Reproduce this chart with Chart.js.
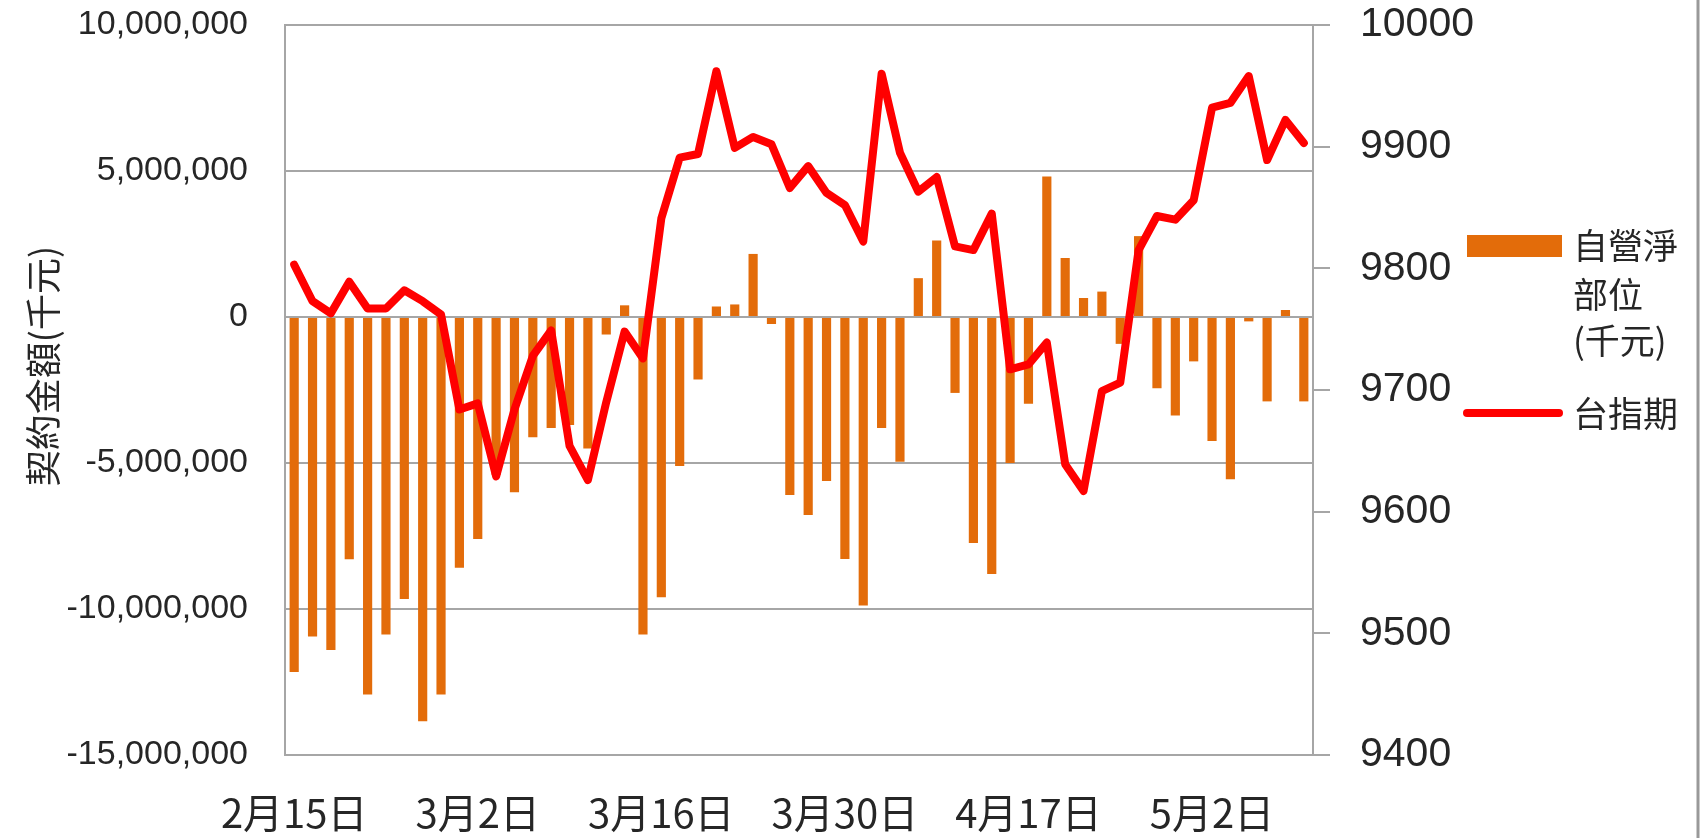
<!DOCTYPE html>
<html>
<head>
<meta charset="utf-8">
<script src="https://cdn.jsdelivr.net/npm/chart.js@4"></script>
<style>
  html, body { margin: 0; padding: 0; background: #fff; }
  #wrap { width: 1705px; height: 838px; }
</style>
</head>
<body>
<div id="wrap"><canvas id="chart" width="1705" height="838"></canvas></div>
<script>
// trading days (only every 10th is labelled on the axis)
var dates = [
    '2月15日', '2月16日', '2月17日', '2月18日', '2月20日', '2月21日', '2月22日', '2月23日', '2月24日', '3月1日',
    '3月2日', '3月3日', '3月6日', '3月7日', '3月8日', '3月9日', '3月10日', '3月13日', '3月14日', '3月15日',
    '3月16日', '3月17日', '3月20日', '3月21日', '3月22日', '3月23日', '3月24日', '3月27日', '3月28日', '3月29日',
    '3月30日', '3月31日', '4月5日', '4月6日', '4月7日', '4月10日', '4月11日', '4月12日', '4月13日', '4月14日',
    '4月17日', '4月18日', '4月19日', '4月20日', '4月21日', '4月24日', '4月25日', '4月26日', '4月27日', '4月28日',
    '5月2日', '5月3日', '5月4日', '5月5日', '5月8日', '5月9日'
];

// 自營淨部位 (千元)
var netPosition = [
    -12160000, -10940000, -11400000, -8300000, -12930000, -10870000, -9660000, -13840000, -12930000, -8590000,
    -7600000, -5400000, -6000000, -4120000, -3800000, -3700000, -4500000, -600000, 400000, -10870000,
    -9600000, -5100000, -2140000, 360000, 430000, 2160000, -240000, -6100000, -6780000, -5620000,
    -8290000, -9880000, -3800000, -4960000, 1330000, 2620000, -2600000, -7740000, -8800000, -5000000,
    -2970000, 4810000, 2020000, 650000, 870000, -920000, 2770000, -2440000, -3370000, -1520000,
    -4250000, -5560000, -150000, -2890000, 240000, -2890000
];

// 台指期
var futures = [
    9803, 9773, 9763, 9789, 9767, 9767, 9782, 9773, 9762, 9684,
    9689, 9629, 9684, 9728, 9749, 9654, 9626, 9690, 9748, 9726,
    9841, 9891, 9894, 9962, 9899, 9908, 9902, 9866, 9884, 9862,
    9852, 9822, 9960, 9895, 9863, 9875, 9818, 9815, 9845, 9717,
    9721, 9739, 9639, 9617, 9699, 9706, 9815, 9843, 9840, 9856,
    9932, 9936, 9958, 9889, 9922, 9903
];

var leftTitle = '契約金額(千元)';
var barLegend = ['自營淨', '部位', '(千元)'];
var lineLegend = '台指期';

var gridGray = '#a6a6a6';
var textColor = '#262626';
var cjkFont = '"Noto Sans CJK TC", "Noto Sans CJK SC", sans-serif';

// keep the plot box fixed: no extra room for tick label overhang
function fixPadding(scale) {
    scale.paddingTop = 0;
    scale.paddingBottom = 0;
}

var extrasPlugin = {
    id: 'extras',
    afterDraw: function (chart) {
        var ctx = chart.ctx;
        var ds = chart.data.datasets;
        ctx.save();

        // y axis title
        ctx.translate(43, 366);
        ctx.rotate(-Math.PI / 2);
        ctx.fillStyle = textColor;
        ctx.font = '36px ' + cjkFont;
        ctx.textAlign = 'center';
        ctx.textBaseline = 'middle';
        ctx.fillText(leftTitle, 0, 0);
        ctx.setTransform(1, 0, 0, 1, 0, 0);

        // legend
        ctx.fillStyle = ds[0].backgroundColor;
        ctx.fillRect(1467, 235, 95, 22);
        ctx.strokeStyle = ds[1].borderColor;
        ctx.lineWidth = 8;
        ctx.lineCap = 'round';
        ctx.beginPath();
        ctx.moveTo(1467, 413);
        ctx.lineTo(1559, 413);
        ctx.stroke();

        ctx.fillStyle = textColor;
        ctx.font = '35px ' + cjkFont;
        ctx.textAlign = 'left';
        ctx.textBaseline = 'middle';
        ctx.fillText(barLegend[0], 1573, 246);
        ctx.fillText(barLegend[1], 1573, 295);
        ctx.fillText(barLegend[2], 1573, 341);
        ctx.fillText(lineLegend, 1573, 414);

        // frame edge on the right
        ctx.strokeStyle = '#999';
        ctx.lineWidth = 3;
        ctx.lineCap = 'butt';
        ctx.beginPath();
        ctx.moveTo(1698, 0);
        ctx.lineTo(1698, 838);
        ctx.stroke();
        ctx.restore();
    }
};

new Chart(document.getElementById('chart'), {
    data: {
        labels: dates,
        datasets: [
            {
                type: 'bar',
                label: '自營淨部位(千元)',
                data: netPosition,
                yAxisID: 'y',
                backgroundColor: '#e36c0a',
                barPercentage: 0.5,
                categoryPercentage: 1.0,
                order: 2
            },
            {
                type: 'line',
                label: lineLegend,
                data: futures,
                yAxisID: 'y1',
                borderColor: '#ff0000',
                borderWidth: 8,
                pointRadius: 0,
                tension: 0,
                borderJoinStyle: 'round',
                borderCapStyle: 'round',
                order: 1
            }
        ]
    },
    options: {
        responsive: false,
        animation: false,
        devicePixelRatio: 1,
        layout: { padding: { top: 25, left: 0, right: 0, bottom: 0 } },
        plugins: {
            legend: { display: false },
            tooltip: { enabled: false }
        },
        scales: {
            x: {
                offset: true,
                grid: { display: false, drawTicks: false },
                border: { display: true, color: gridGray, width: 2 },
                ticks: {
                    autoSkip: false,
                    maxRotation: 0,
                    minRotation: 0,
                    padding: 34,
                    color: textColor,
                    font: { family: cjkFont, size: 40 },
                    callback: function (value, i) {
                        return i % 10 === 0 ? dates[i] : '';
                    }
                },
                afterFit: function (scale) { scale.height = 83; }
            },
            y: {
                position: 'left',
                min: -15000000,
                max: 10000000,
                grid: { color: gridGray, lineWidth: 2, drawTicks: false },
                border: { display: true, color: gridGray, width: 2 },
                ticks: {
                    stepSize: 5000000,
                    padding: 37,
                    color: textColor,
                    font: { family: 'Liberation Sans', size: 34 },
                    callback: function (value) {
                        return value.toLocaleString('en-US');
                    }
                },
                afterFit: function (scale) { scale.width = 285; fixPadding(scale); }
            },
            y1: {
                position: 'right',
                min: 9400,
                max: 10000,
                grid: { drawOnChartArea: false, drawTicks: true, tickLength: 17, color: gridGray, lineWidth: 2 },
                border: { display: true, color: gridGray, width: 2 },
                ticks: {
                    stepSize: 100,
                    padding: 30,
                    color: textColor,
                    font: { family: 'Liberation Sans', size: 41 },
                    callback: function (value) {
                        return String(value);
                    }
                },
                afterFit: function (scale) { scale.width = 392; fixPadding(scale); }
            }
        }
    },
    plugins: [extrasPlugin]
});
</script>
</body>
</html>
